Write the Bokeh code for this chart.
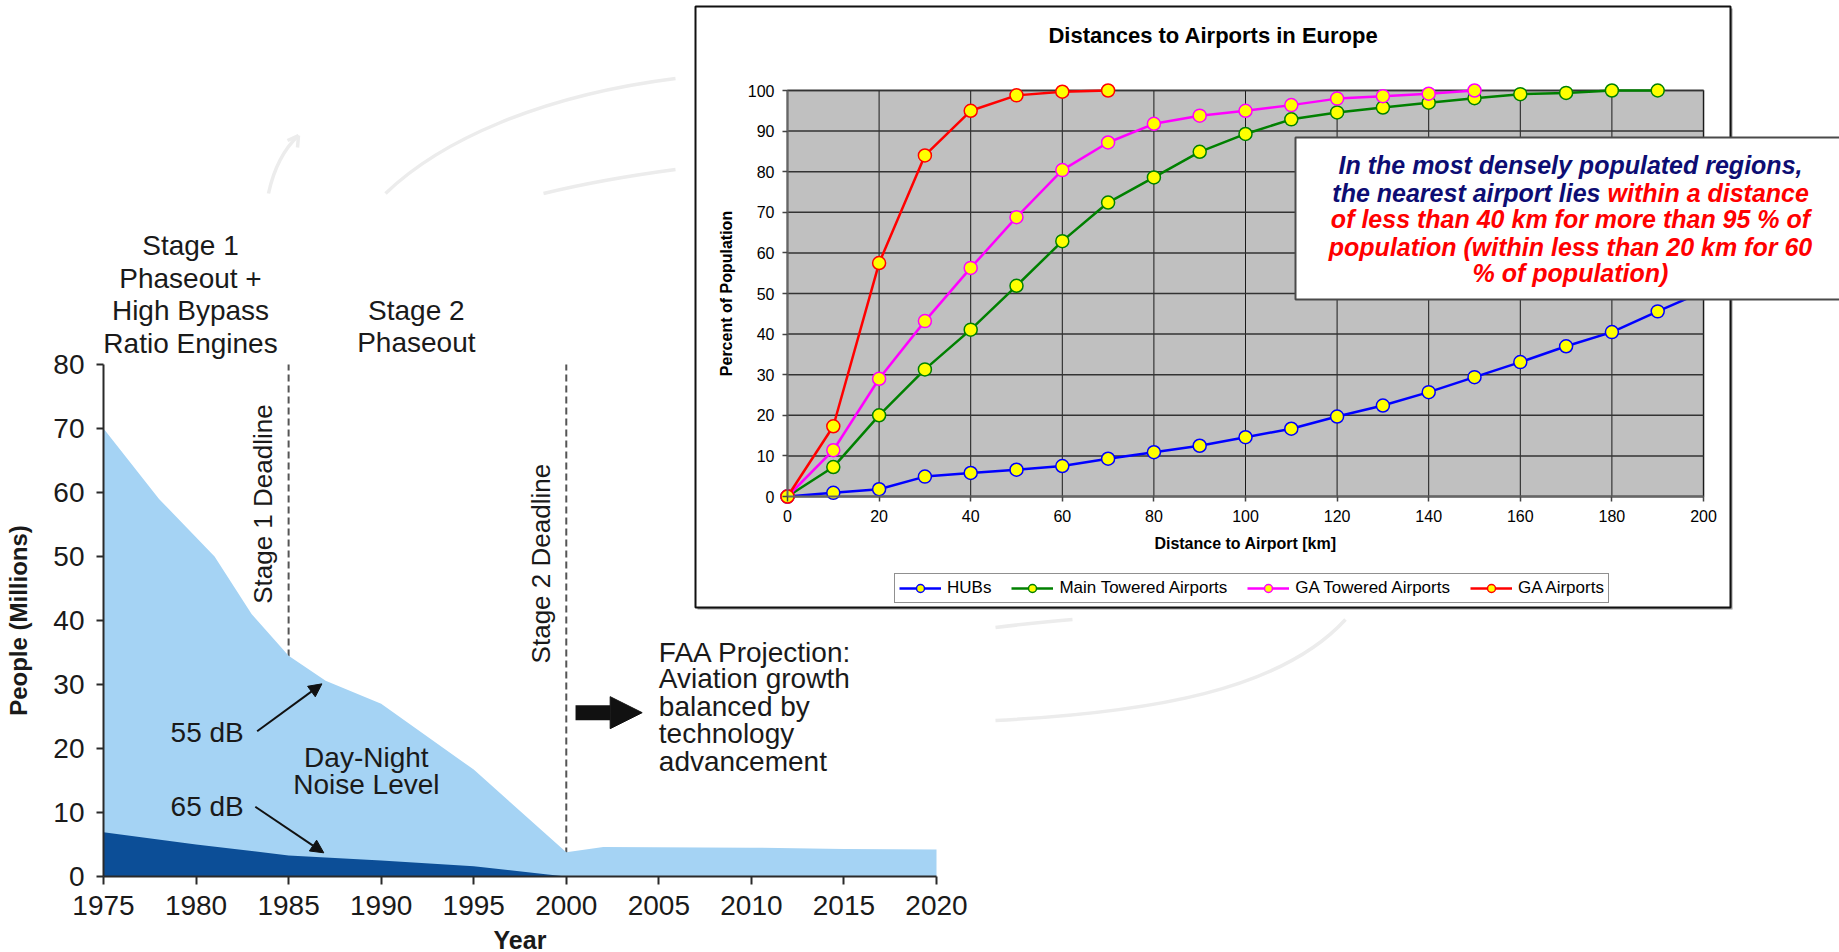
from bokeh.plotting import figure
from bokeh.models import (Range1d, Label, Arrow, NormalHead, Legend, LegendItem,
                          FixedTicker, LinearAxis, BoxAnnotation)
from bokeh.embed import file_html
from bokeh.resources import INLINE

# ---------------- left chart: people exposed to aircraft noise ----------------
years_55 = [1975, 1978, 1981, 1983, 1985, 1987, 1990, 1995, 2000, 2002, 2010, 2015, 2020]
people_55 = [70, 59, 50, 41, 34.5, 30.6, 27, 16.7, 3.8, 4.6, 4.5, 4.3, 4.2]
years_65 = [1975, 1980, 1985, 1990, 1995, 1999, 2000]
people_65 = [6.9, 5.0, 3.3, 2.5, 1.6, 0.3, 0.0]
year_ticks = [1975, 1980, 1985, 1990, 1995, 2000, 2005, 2010, 2015, 2020]
people_ticks = [0, 10, 20, 30, 40, 50, 60, 70, 80]
deadline_years = [1985, 2000]
deadline_names = ["Stage 1 Deadline", "Stage 2 Deadline"]

# ---------------- right chart: distances to airports in Europe ----------------
distance_km = [0, 10, 20, 30, 40, 50, 60, 70, 80, 90, 100, 110, 120, 130, 140, 150,
               160, 170, 180, 190, 200]
hubs = [0, 0.9, 1.8, 4.9, 5.8, 6.6, 7.5, 9.3, 10.9, 12.5, 14.6, 16.7, 19.7, 22.4, 25.7,
        29.4, 33.1, 37.0, 40.5, 45.6, 50.5]
main_towered = [0, 7.25, 20.0, 31.3, 41.1, 51.9, 62.9, 72.4, 78.6, 84.9, 89.3, 92.9, 94.6,
                95.8, 97.0, 98.1, 99.1, 99.4, 100, 100]
ga_towered = [0, 11.4, 29.0, 43.2, 56.3, 68.8, 80.4, 87.2, 91.8, 93.8, 95.0, 96.4, 98.0,
              98.6, 99.2, 100]
ga_airports = [0, 17.3, 57.5, 84.0, 95.0, 98.8, 99.7, 100]
series_names = ["HUBs", "Main Towered Airports", "GA Towered Airports", "GA Airports"]
series_values = [hubs, main_towered, ga_towered, ga_airports]
series_colors = ["#0000ff", "#008000", "#ff00ff", "#ff0000"]
dist_ticks = [0, 20, 40, 60, 80, 100, 120, 140, 160, 180, 200]
pct_ticks = [0, 10, 20, 30, 40, 50, 60, 70, 80, 90, 100]

FONT = "Liberation Sans"
TXT = "#1a1a1a"

# ---------------- layout (canvas pixels) ----------------
W, H = 1839, 952
L_X0, L_X1, L_Y0, L_Y1 = 103, 936, 876, 364     # left plot area: 1975..2020, 0..80
R_X0, R_X1, R_Y0, R_Y1 = 787, 1703, 496, 90     # right plot area: 0..200 km, 0..100 %

yr0, yr1 = year_ticks[0], year_ticks[-1]
pe0, pe1 = people_ticks[0], people_ticks[-1]
k = (yr1 - yr0) / (L_X1 - L_X0)
m = (pe1 - pe0) / (L_Y0 - L_Y1)
x_range = Range1d(yr0 - L_X0 * k, yr1 + (W - L_X1) * k)
y_range = Range1d(pe0 - (H - L_Y0) * m, pe1 + L_Y1 * m)

d0, d1 = dist_ticks[0], dist_ticks[-1]
q0, q1 = pct_ticks[0], pct_ticks[-1]
kd = (d1 - d0) / (R_X1 - R_X0)
kq = (q1 - q0) / (R_Y0 - R_Y1)

p = figure(width=W, height=H, x_range=x_range, y_range=y_range,
           x_axis_location=None, y_axis_location=None, min_border=0,
           output_backend="svg", toolbar_location=None)
p.extra_x_ranges = {"dist": Range1d(d0 - R_X0 * kd, d1 + (W - R_X1) * kd),
                    "px": Range1d(0, W)}
p.extra_y_ranges = {"pct": Range1d(q0 - (H - R_Y0) * kq, q1 + R_Y1 * kq),
                    "px": Range1d(H, 0)}
p.grid.visible = False
p.outline_line_color = None
p.background_fill_color = "white"
p.border_fill_color = "white"


def lab(x, y, text, size, align="center", angle=0, style="normal", color=TXT,
        xr="default", yr="default"):
    p.add_layout(Label(x=x, y=y, text=text, text_font=FONT, text_font_size=size,
                       text_align=align, text_baseline="middle", angle=angle,
                       angle_units="deg", text_font_style=style, text_color=color,
                       x_range_name=xr, y_range_name=yr))


# ---------------- faint decorative background arcs (slide backdrop) ----------------
ARC = dict(line_color="#ececec", line_width=3.5, x_range_name="px", y_range_name="px")
p.bezier(x0=[268, 385, 543, 995, 995], y0=[193, 193, 193, 627, 720],
         x1=[298, 675, 675, 1072, 1345], y1=[135, 78, 169, 619, 619],
         cx0=[274, 440, 580, 1020, 1150], cy0=[165, 140, 184, 624, 712],
         cx1=[284, 540, 630, 1045, 1280], cy1=[148, 95, 175, 621, 690], **ARC)
p.segment(x0=[298, 298], y0=[135, 135], x1=[287, 297], y1=[140, 147], **ARC)

# ============================ LEFT CHART ============================
p.segment(x0=deadline_years, y0=pe0, x1=deadline_years, y1=pe1, line_color="#555555",
          line_width=2, line_dash="7 4")
p.varea(x=years_55, y1=0, y2=people_55, fill_color="#a5d3f4")
p.varea(x=years_65, y1=0, y2=people_65, fill_color="#0c4e97")

ax_year = LinearAxis(fixed_location=pe0, bounds=(yr0, yr1),
                     ticker=FixedTicker(ticks=year_ticks), axis_label="Year")
ax_people = LinearAxis(fixed_location=yr0, bounds=(pe0, pe1),
                       ticker=FixedTicker(ticks=people_ticks),
                       axis_label="People (Millions)")
for ax in (ax_year, ax_people):
    ax.major_tick_in = 0
    ax.minor_tick_line_color = None
    ax.axis_line_color = "#2a2a2a"
    ax.axis_line_width = 2
    ax.major_tick_line_color = "#2a2a2a"
    ax.major_tick_line_width = 2
    ax.major_label_text_font = FONT
    ax.major_label_text_font_size = "28px"
    ax.major_label_text_color = TXT
    ax.axis_label_text_font = FONT
    ax.axis_label_text_font_style = "bold"
    ax.axis_label_text_color = TXT
ax_year.major_tick_out = 8
ax_year.major_label_standoff = 11
ax_year.axis_label_standoff = 8
ax_year.axis_label_text_font_size = "25px"
ax_people.major_tick_out = 7
ax_people.major_label_standoff = 12
ax_people.axis_label_standoff = 18
ax_people.axis_label_text_font_size = "24px"
p.add_layout(ax_year, "below")
p.add_layout(ax_people, "left")

for txt, yv in zip(["Stage 1", "Phaseout +", "High Bypass", "Ratio Engines"],
                   [98.6, 93.4, 88.4, 83.3]):
    lab(1979.7, yv, txt, "28px")
for txt, yv in zip(["Stage 2", "Phaseout"], [88.4, 83.4]):
    lab(1991.9, yv, txt, "28px")
lab(1983.6, 42.6, deadline_names[0], "26px", align="left", angle=90)
lab(1998.65, 33.3, deadline_names[1], "26px", align="left", angle=90)
lab(1980.6, 22.5, "55 dB", "28px")
lab(1980.6, 10.9, "65 dB", "28px")
lab(1989.2, 18.6, "Day-Night", "28px")
lab(1989.2, 14.4, "Noise Level", "28px")
for txt, yv in zip(["FAA Projection:", "Aviation growth", "balanced by", "technology",
                    "advancement"], [35.0, 30.9, 26.6, 22.3, 18.0]):
    lab(2005.0, yv, txt, "28px", align="left")

p.add_layout(Arrow(x_start=1983.3, y_start=22.7, x_end=1986.8, y_end=30.1,
                   line_width=2, line_color="#111111",
                   end=NormalHead(size=13, fill_color="#111111", line_color="#111111")))
p.add_layout(Arrow(x_start=1983.2, y_start=10.9, x_end=1986.9, y_end=3.7,
                   line_width=2, line_color="#111111",
                   end=NormalHead(size=13, fill_color="#111111", line_color="#111111")))
p.add_layout(Arrow(x_start=2000.5, y_start=25.6, x_end=2004.1, y_end=25.6,
                   line_width=15, line_color="#111111", line_cap="butt",
                   end=NormalHead(size=32, fill_color="#111111", line_color="#111111")))

# ============================ RIGHT CHART ============================
p.add_layout(BoxAnnotation(left=697, right=1732, top=8, bottom=609, x_range_name="px",
                           y_range_name="px", fill_color="#9a9a9a", fill_alpha=1,
                           line_alpha=0, level="underlay"))
p.add_layout(BoxAnnotation(left=695, right=1730, top=6, bottom=607, x_range_name="px",
                           y_range_name="px", fill_color="white", fill_alpha=1,
                           line_color="#111111", line_alpha=1, line_width=2,
                           level="underlay"))
p.add_layout(BoxAnnotation(left=d0, right=d1, bottom=q0, top=q1, x_range_name="dist",
                           y_range_name="pct", fill_color="#c0c0c0", fill_alpha=1,
                           line_color="#808080", line_alpha=1, line_width=2,
                           level="underlay"))
p.segment(x0=dist_ticks, y0=q0, x1=dist_ticks, y1=q1, x_range_name="dist",
          y_range_name="pct", line_color="#1a1a1a", line_width=1)
p.segment(x0=d0, y0=pct_ticks, x1=d1, y1=pct_ticks, x_range_name="dist",
          y_range_name="pct", line_color="#333333", line_width=1.5)

ax_dist = LinearAxis(x_range_name="dist", y_range_name="pct", fixed_location=q0,
                     bounds=(d0, d1), ticker=FixedTicker(ticks=dist_ticks),
                     axis_label="Distance to Airport [km]")
ax_pct = LinearAxis(x_range_name="dist", y_range_name="pct", fixed_location=d0,
                    bounds=(q0, q1), ticker=FixedTicker(ticks=pct_ticks),
                    axis_label="Percent of Population")
for ax in (ax_dist, ax_pct):
    ax.major_tick_in = 0
    ax.major_tick_out = 5
    ax.minor_tick_line_color = None
    ax.axis_line_color = "#666666"
    ax.axis_line_width = 2
    ax.major_tick_line_color = "#444444"
    ax.major_tick_line_width = 1.5
    ax.major_label_text_font = FONT
    ax.major_label_text_font_size = "16px"
    ax.major_label_text_color = "black"
    ax.major_label_standoff = 8
    ax.axis_label_text_font = FONT
    ax.axis_label_text_font_size = "16px"
    ax.axis_label_text_font_style = "bold"
    ax.axis_label_text_color = "black"
    ax.axis_label_standoff = 10
p.add_layout(ax_dist, "below")
p.add_layout(ax_pct, "left")

lab(1213, 35, "Distances to Airports in Europe", "22px", style="bold", color="black",
    xr="px", yr="px")

items = []
for name, vals, col in zip(series_names, series_values, series_colors):
    xs = distance_km[:len(vals)]
    ln = p.line(xs, vals, line_color=col, line_width=2.5, x_range_name="dist",
                y_range_name="pct")
    sc = p.scatter(xs, vals, size=13, marker="circle", fill_color="#ffff00",
                   line_color=col, line_width=1.5, x_range_name="dist",
                   y_range_name="pct")
    items.append(LegendItem(label=name, renderers=[ln, sc]))

legend = Legend(items=items, orientation="horizontal", location=(894, 349),
                border_line_color="#222222", border_line_width=1.5,
                background_fill_color="white", background_fill_alpha=1,
                label_text_font=FONT, label_text_font_size="17px",
                label_text_color="black", glyph_width=42, glyph_height=20,
                label_standoff=6, spacing=20, padding=4, margin=0)
p.add_layout(legend)

# ============================ NOTE BOX ============================
p.add_layout(BoxAnnotation(left=1295, right=1950, top=137, bottom=299, x_range_name="px",
                           y_range_name="px", fill_color="white", fill_alpha=1,
                           line_color="#4a4a4a", line_alpha=1, line_width=2))
NAVY = "#0d0d73"
RED = "#ff0000"
note = dict(size="25px", style="bold italic", xr="px", yr="px")
lab(1570, 164, "In the most densely populated regions,", color=NAVY, **note)
lab(1600, 192, "the nearest airport lies", align="right", color=NAVY, **note)
lab(1607, 192, "within a distance", align="left", color=RED, **note)
lab(1570, 218, "of less than 40 km for more than 95 % of", color=RED, **note)
lab(1570, 246, "population (within less than 20 km for 60", color=RED, **note)
lab(1570, 272, "% of population)", color=RED, **note)

open("out.html", "w").write(file_html(p, INLINE))
